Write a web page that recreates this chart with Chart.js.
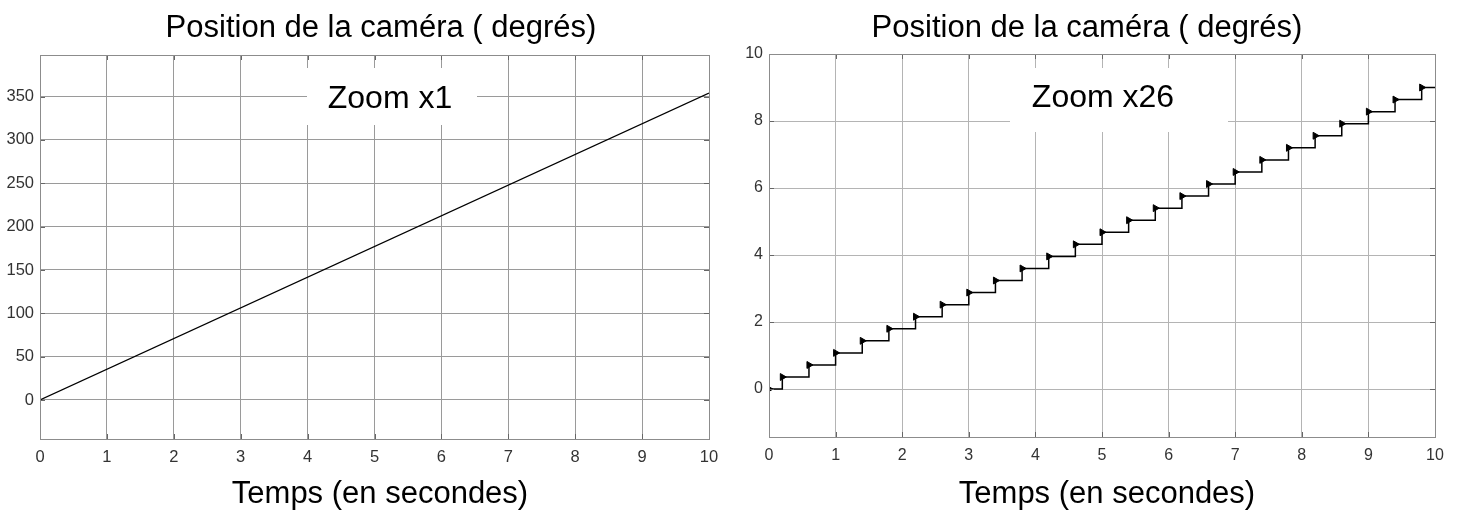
<!DOCTYPE html>
<html>
<head>
<meta charset="utf-8">
<script src="https://cdn.jsdelivr.net/npm/chart.js@4.4.0/dist/chart.umd.min.js"></script>
<style>
  body { margin: 0; background: #fff; }
  #wrap { position: relative; width: 1459px; height: 510px; }
  canvas { position: absolute; top: 0; }
</style>
</head>
<body>
<div id="wrap">
  <canvas id="left" width="729" height="510" style="left:0"></canvas>
  <canvas id="right" width="730" height="510" style="left:729px"></canvas>
</div>
<script>
// Zoom x1 : rotation complete
const leftTime = [0, 10];
const leftAngle = [0, 354];
const leftYTicks = [0, 50, 100, 150, 200, 250, 300, 350];

// Zoom x26 : marches d'escalier (instants des sauts)
const stepTime = [0, 0.2, 0.6, 1.0, 1.4, 1.8, 2.2, 2.6, 3.0, 3.4, 3.8, 4.2, 4.6,
    5.0, 5.4, 5.8, 6.2, 6.6, 7.0, 7.4, 7.8, 8.2, 8.6, 9.0, 9.4, 9.8, 10];
const stepAngle = [0, 0.36, 0.72, 1.08, 1.44, 1.80, 2.16, 2.52, 2.88, 3.24, 3.60, 3.96, 4.32,
    4.68, 5.04, 5.40, 5.76, 6.12, 6.48, 6.84, 7.20, 7.56, 7.92, 8.28, 8.64, 9.00, 9.00];
const rightYTicks = [0, 2, 4, 6, 8, 10];

const xTicks = [0, 1, 2, 3, 4, 5, 6, 7, 8, 9, 10];

const titleText = "Position de la caméra ( degrés)";
const xTitleText = "Temps (en secondes)";
const FONT = '"Liberation Sans", Arial, sans-serif';

const framePlugin = {
    id: "frame",
    beforeDatasetsDraw(chart, args, o) {
        const ctx = chart.ctx;
        ctx.save();
        ctx.fillStyle = "#fff";
        ctx.fillRect(o.box[0], o.box[1], o.box[2] - o.box[0], o.box[3] - o.box[1]);
        ctx.fillStyle = "#000";
        ctx.font = "32px " + FONT;
        ctx.textAlign = "center";
        ctx.textBaseline = "alphabetic";
        ctx.fillText(o.label, o.labelX, o.labelY);
        ctx.restore();
    },
    afterDraw(chart, args, o) {
        const ctx = chart.ctx;
        const a = chart.chartArea;
        const xs = chart.scales.x, ys = chart.scales.y;
        ctx.save();
        // small inward ticks on the four sides
        ctx.strokeStyle = "#666";
        ctx.lineWidth = 1;
        ctx.beginPath();
        xs.ticks.forEach(t => {
            const px = Math.round(xs.getPixelForValue(t.value)) + 0.5;
            ctx.moveTo(px, a.top); ctx.lineTo(px, a.top + 5);
            ctx.moveTo(px, a.bottom); ctx.lineTo(px, a.bottom - 5);
        });
        ys.ticks.forEach(t => {
            const py = Math.round(ys.getPixelForValue(t.value)) + 0.5;
            ctx.moveTo(a.left, py); ctx.lineTo(a.left + 5, py);
            ctx.moveTo(a.right, py); ctx.lineTo(a.right - 5, py);
        });
        ctx.stroke();
        ctx.strokeStyle = "#8c8c8c";
        ctx.strokeRect(Math.round(a.left) + 0.5, Math.round(a.top) + 0.5,
            Math.round(a.right - a.left), Math.round(a.bottom - a.top));
        // titles
        ctx.fillStyle = "#000";
        ctx.font = "31px " + FONT;
        ctx.textAlign = "center";
        ctx.textBaseline = "alphabetic";
        ctx.fillText(titleText, o.titleX, 37);
        ctx.fillText(xTitleText, o.xTitleX, 503);
        ctx.restore();
    }
};

function makeChart(id, cfg) {
    return new Chart(document.getElementById(id), {
        type: "line",
        data: {
            datasets: [{
                data: cfg.xs.map((x, i) => ({ x: x, y: cfg.ys[i] })),
                borderColor: "#000",
                backgroundColor: "#000",
                borderWidth: cfg.lineWidth,
                stepped: cfg.stepped,
                tension: 0,
                pointStyle: "triangle",
                rotation: 90,
                pointRadius: cfg.marker,
                pointBorderWidth: 1,
            }],
        },
        options: {
            responsive: false,
            devicePixelRatio: 1,
            animation: false,
            events: [],
            layout: { padding: cfg.padding },
            plugins: {
                legend: { display: false },
                tooltip: { enabled: false },
                frame: cfg.frame,
            },
            scales: {
                x: {
                    type: "linear",
                    min: 0, max: 10,
                    afterBuildTicks: s => { s.ticks = xTicks.map(v => ({ value: v })); },
                    afterFit: s => { s.height = cfg.xHeight; },
                    grid: { color: cfg.gridColor, drawTicks: false },
                    border: { color: "#8c8c8c" },
                    ticks: { color: "#333", font: { family: FONT, size: cfg.tickSize }, padding: 9, maxRotation: 0 },
                },
                y: {
                    type: "linear",
                    min: cfg.yMin, max: cfg.yMax,
                    afterBuildTicks: s => { s.ticks = cfg.yTicks.map(v => ({ value: v })); },
                    afterFit: s => { s.width = 40; },
                    grid: { color: cfg.gridColor, drawTicks: false },
                    border: { color: "#8c8c8c" },
                    ticks: { color: "#333", font: { family: FONT, size: cfg.tickSize }, padding: 6 },
                },
            },
        },
        plugins: [framePlugin],
    });
}

makeChart("left", {
    xs: leftTime, ys: leftAngle, yTicks: leftYTicks,
    yMin: -45, yMax: 398,
    lineWidth: 1.3, stepped: false, marker: 0,
    gridColor: "#9a9a9a", tickSize: 16.5,
    padding: { top: 55, right: 20, bottom: 0, left: 0 },
    xHeight: 71,
    frame: { box: [307, 68, 477, 125], label: "Zoom x1", labelX: 390, labelY: 108, titleX: 381, xTitleX: 380 },
});

makeChart("right", {
    xs: stepTime, ys: stepAngle, yTicks: rightYTicks,
    yMin: -1.43, yMax: 10,
    lineWidth: 1.5, stepped: "before",
    marker: ctx => (ctx.dataIndex < stepTime.length - 1 ? 4 : 0),
    gridColor: "#b4b4b4", tickSize: 16,
    padding: { top: 54, right: 24, bottom: 0, left: 0 },
    xHeight: 73,
    frame: { box: [281, 68, 499, 132], label: "Zoom x26", labelX: 374, labelY: 107, titleX: 358, xTitleX: 378 },
});
</script>
</body>
</html>
